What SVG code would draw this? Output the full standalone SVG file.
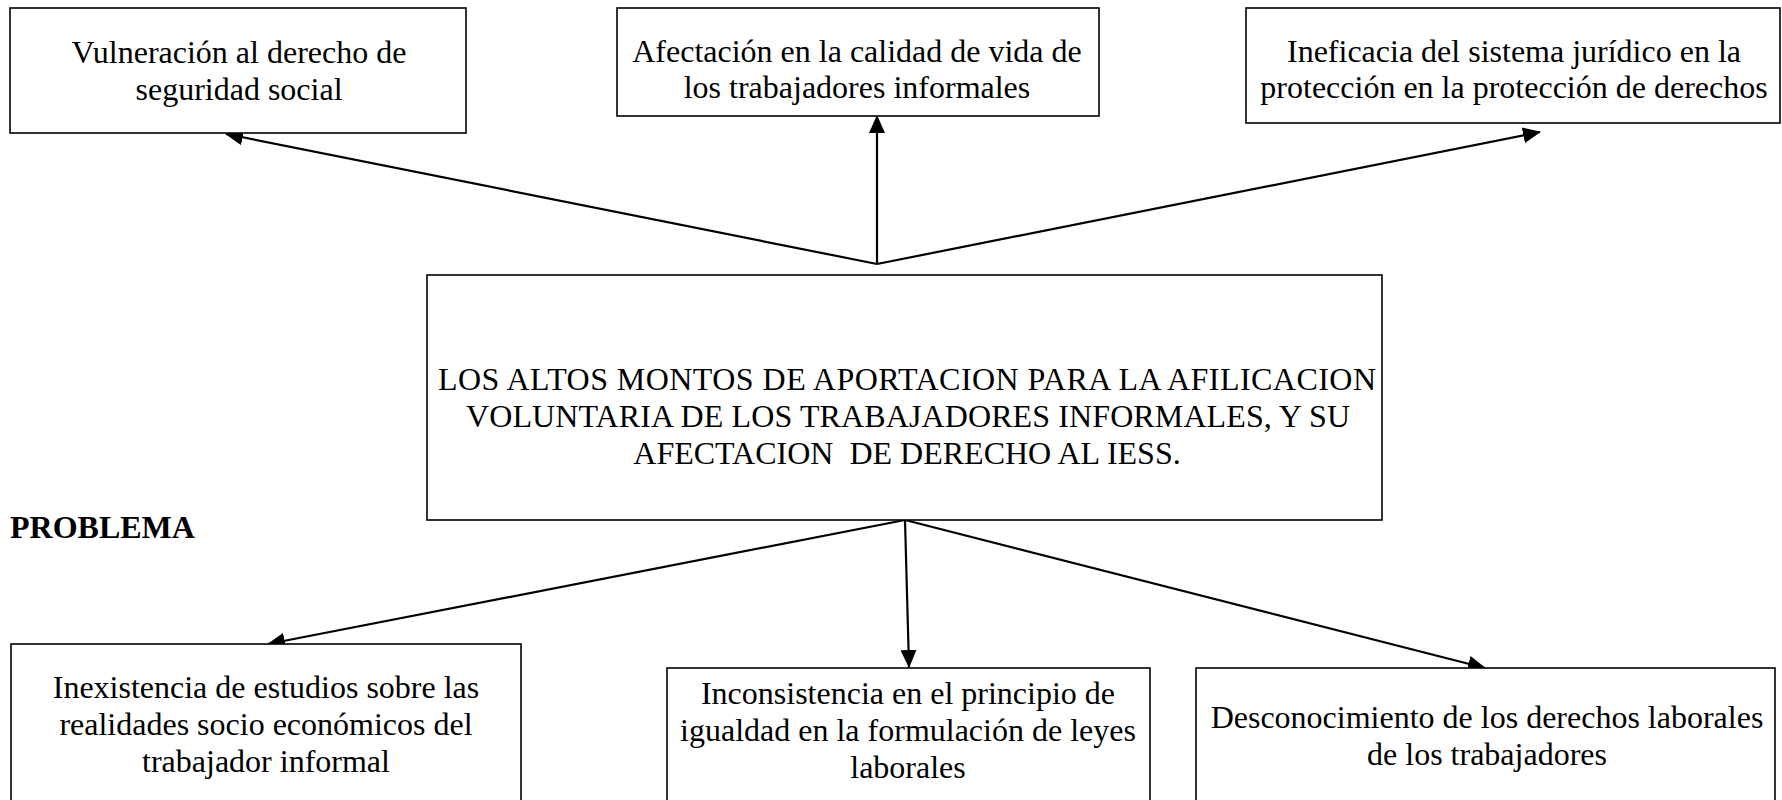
<svg xmlns="http://www.w3.org/2000/svg" width="1782" height="800" viewBox="0 0 1782 800">
<style>
.box{fill:#fff;stroke:#000;stroke-width:1.6}
.t{font-family:"Liberation Serif","Times New Roman",serif;font-size:32px;fill:#000;text-anchor:middle}
.b{font-family:"Liberation Serif","Times New Roman",serif;font-size:32px;font-weight:bold;fill:#000}
.c{stroke:#000;stroke-width:2.2;fill:none;marker-end:url(#ah)}
</style>
<defs>
<marker id="ah" viewBox="0 0 18 16" refX="17" refY="8" markerWidth="18" markerHeight="16" markerUnits="userSpaceOnUse" orient="auto">
<path d="M0,0 L18,8 L0,16 z" fill="#000"/>
</marker>
</defs>
<rect width="1782" height="800" fill="#fff"/>
<g id="connectors">
<line class="c" x1="877" y1="264" x2="226" y2="134"/>
<line class="c" x1="877" y1="264" x2="877" y2="116"/>
<line class="c" x1="877" y1="264" x2="1540" y2="132"/>
<line class="c" x1="905" y1="520" x2="268" y2="644"/>
<line class="c" x1="905" y1="520" x2="909" y2="667"/>
<line class="c" x1="905" y1="520" x2="1485" y2="668"/>
</g>
<g id="node-vulneracion">
<rect class="box" x="10" y="8" width="456" height="125"/>
<text class="t" x="239" y="63">Vulneración al derecho de</text>
<text class="t" x="239" y="100">seguridad social</text>
</g>
<g id="node-afectacion">
<rect class="box" x="617" y="8" width="482" height="108"/>
<text class="t" x="857" y="62">Afectación en la calidad de vida de</text>
<text class="t" x="857" y="98">los trabajadores informales</text>
</g>
<g id="node-ineficacia">
<rect class="box" x="1246" y="8" width="534" height="115"/>
<text class="t" x="1514" y="62">Ineficacia del sistema jurídico en la</text>
<text class="t" x="1514" y="98">protección en la protección de derechos</text>
</g>
<g id="node-problema-central">
<rect class="box" x="427" y="275" width="955" height="245"/>
<text class="t" x="907" y="390" textLength="938">LOS ALTOS MONTOS DE APORTACION PARA LA AFILICACION</text>
<text class="t" x="908" y="427" textLength="884">VOLUNTARIA DE LOS TRABAJADORES INFORMALES, Y SU</text>
<text class="t" x="907" y="464" xml:space="preserve">AFECTACION  DE DERECHO AL IESS.</text>
</g>
<g id="label-problema">
<text class="b" x="10" y="538">PROBLEMA</text>
</g>
<g id="node-inexistencia">
<rect class="box" x="11" y="644" width="510" height="170"/>
<text class="t" x="266" y="698">Inexistencia de estudios sobre las</text>
<text class="t" x="266" y="735">realidades socio económicos del</text>
<text class="t" x="266" y="772">trabajador informal</text>
</g>
<g id="node-inconsistencia">
<rect class="box" x="667" y="668" width="483" height="150"/>
<text class="t" x="908" y="704">Inconsistencia en el principio de</text>
<text class="t" x="908" y="741">igualdad en la formulación de leyes</text>
<text class="t" x="908" y="778">laborales</text>
</g>
<g id="node-desconocimiento">
<rect class="box" x="1196" y="668" width="579" height="150"/>
<text class="t" x="1487" y="728">Desconocimiento de los derechos laborales</text>
<text class="t" x="1487" y="765">de los trabajadores</text>
</g>
</svg>
